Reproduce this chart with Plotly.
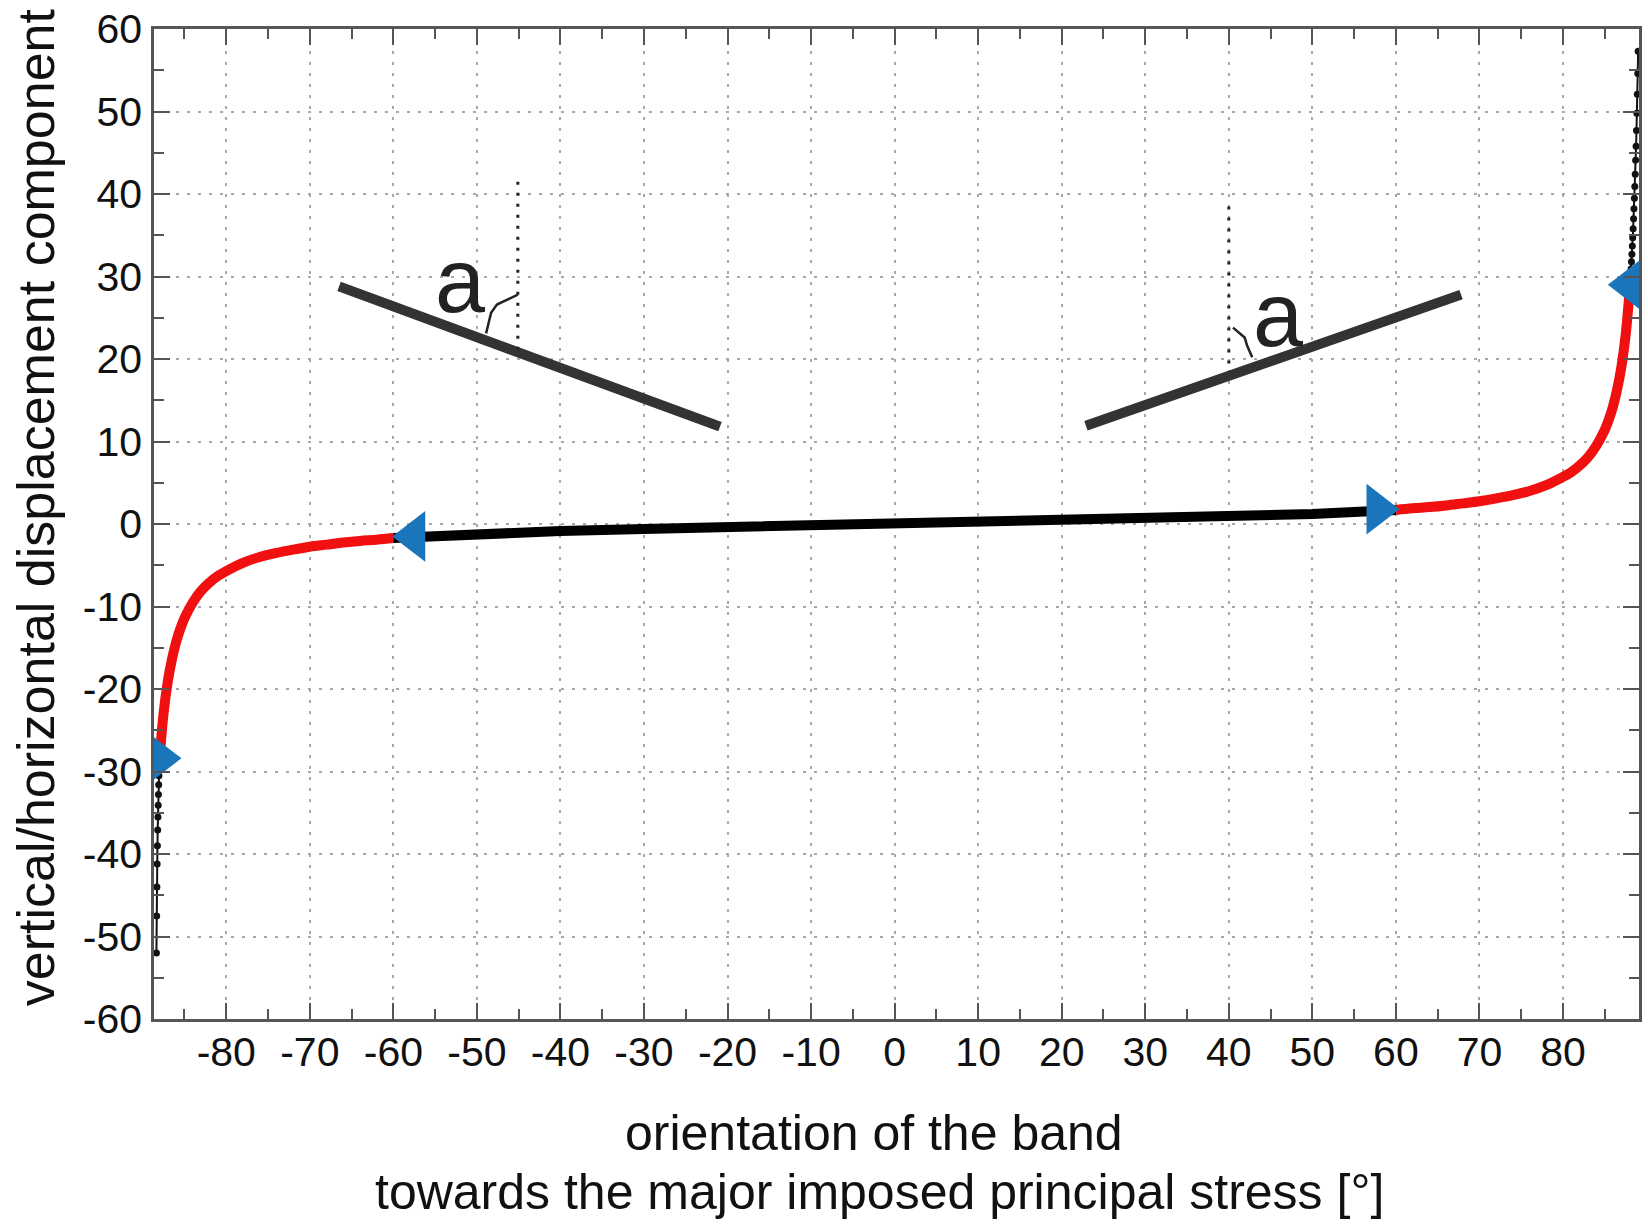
import plotly.graph_objects as go

# ---------------- data ----------------
# central (black) part of the curve
mid_x = [-60, -50, -40, -30, -20, -10, 0, 10, 20, 30, 40, 50, 60]
mid_y = [-1.7, -1.2, -0.85, -0.6, -0.35, -0.2, 0.0, 0.2, 0.35, 0.6, 0.85, 1.2, 1.7]

# red right branch
red_r_x = [60, 62, 64, 66, 68, 70, 72, 74, 76, 78, 80, 81, 82, 83, 84, 85, 85.5, 86, 86.5, 87, 87.5, 88]
red_r_y = [1.7, 1.9, 2.05, 2.25, 2.5, 2.75, 3.1, 3.5, 4.0, 4.7, 5.7, 6.3, 7.1, 8.1, 9.5, 11.4, 12.7, 14.3, 16.4, 19.1, 22.9, 28.6]

# red left branch
red_l_x = [-60, -62, -64, -66, -68, -70, -72, -74, -76, -78, -80, -81, -82, -83, -84, -85, -85.5, -86, -86.5, -87, -87.5, -88]
red_l_y = [-1.7, -1.9, -2.05, -2.25, -2.5, -2.75, -3.1, -3.5, -4.0, -4.7, -5.7, -6.3, -7.1, -8.1, -9.5, -11.4, -12.7, -14.3, -16.4, -19.1, -22.9, -28.6]

# black dotted tails close to +/-90 deg
tail_r_x = [88.0, 88.05, 88.1, 88.15, 88.2, 88.25, 88.3, 88.35, 88.4, 88.45, 88.5, 88.55, 88.6, 88.65, 88.7, 88.75, 88.8, 88.85, 88.9, 88.95, 89.0]
tail_r_y = [28.6, 29.3, 30.1, 30.9, 31.8, 32.7, 33.7, 34.7, 35.8, 37.0, 38.2, 39.5, 40.9, 42.4, 44.1, 45.8, 47.7, 49.8, 52.1, 54.6, 57.3]
tail_l_x = [-88.0, -88.03, -88.06, -88.09, -88.12, -88.15, -88.18, -88.21, -88.24, -88.27, -88.3, -88.33, -88.36]
tail_l_y = [-28.6, -29.5, -30.5, -31.6, -32.8, -34.1, -35.5, -37.1, -39.0, -41.2, -44.0, -47.5, -52.0]

# blue triangle markers: (x, y, symbol)
tri_x = [-57.5, 57.8, 88.0, -88.0]
tri_y = [-1.5, 1.8, 29.0, -28.4]
tri_sym = ["triangle-left", "triangle-right", "triangle-left", "triangle-right"]

# sketch of the band: left and right thick segments
band_l_x = [-66.5, -20.9]
band_l_y = [28.8, 11.8]
band_r_x = [22.9, 67.8]
band_r_y = [11.9, 27.8]

# vertical dotted reference lines
vref_l_x = [-45.1, -45.1]
vref_l_y = [41.5, 21.0]
vref_r_x = [40.0, 40.0]
vref_r_y = [38.5, 18.5]

# small angle arcs
arc_l_x = [-45.1, -47.6, -48.3, -48.9]
arc_l_y = [27.8, 26.6, 25.6, 23.1]
arc_r_x = [40.5, 41.9, 42.2, 42.8]
arc_r_y = [23.8, 22.6, 21.6, 20.2]

# angle labels
a_x = [-52.0, 46.0]
a_y = [29.5, 25.3]
a_text = ["a", "a"]

x_ticks = [-80, -70, -60, -50, -40, -30, -20, -10, 0, 10, 20, 30, 40, 50, 60, 70, 80]
y_ticks = [-60, -50, -40, -30, -20, -10, 0, 10, 20, 30, 40, 50, 60]

x_title_1 = "orientation of the band"
x_title_2 = "towards the major imposed principal stress [°]"
y_title = "vertical/horizontal displacement component"

# ---------------- figure ----------------
FONT = "Liberation Sans, Arial, sans-serif"
TXT = "#111111"
AX = "#555555"
GRID = "#a9a9a9"

fig = go.Figure()

# band sketch lines
for bx, by in [(band_l_x, band_l_y), (band_r_x, band_r_y)]:
    fig.add_trace(go.Scatter(x=bx, y=by, mode="lines",
                             line=dict(color="#333333", width=10), hoverinfo="skip"))
# dotted verticals
for vx, vy in [(vref_l_x, vref_l_y), (vref_r_x, vref_r_y)]:
    fig.add_trace(go.Scatter(x=vx, y=vy, mode="lines",
                             line=dict(color="#222222", width=3, dash="3px,8px"), hoverinfo="skip"))
# arcs
for cx, cy in [(arc_l_x, arc_l_y), (arc_r_x, arc_r_y)]:
    fig.add_trace(go.Scatter(x=cx, y=cy, mode="lines",
                             line=dict(color="#222222", width=2.5), hoverinfo="skip"))

# tails
for tx, ty in [(tail_r_x, tail_r_y), (tail_l_x, tail_l_y)]:
    fig.add_trace(go.Scatter(x=tx, y=ty, mode="lines+markers",
                             line=dict(color="#111111", width=2),
                             marker=dict(color="#111111", size=7), hoverinfo="skip"))
# red branches
for rx, ry in [(red_r_x, red_r_y), (red_l_x, red_l_y)]:
    fig.add_trace(go.Scatter(x=rx, y=ry, mode="lines",
                             line=dict(color="#f01010", width=10, shape="spline"), hoverinfo="skip"))
# central black line
fig.add_trace(go.Scatter(x=mid_x, y=mid_y, mode="lines",
                         line=dict(color="#000000", width=10), hoverinfo="skip"))
# blue triangles
fig.add_trace(go.Scatter(x=tri_x, y=tri_y, mode="markers",
                         marker=dict(symbol=tri_sym, size=44, color="#1b75bb",
                                     line=dict(width=0)), hoverinfo="skip"))

annotations = []
for ax_, ay_, t in zip(a_x, a_y, a_text):
    annotations.append(dict(x=ax_, y=ay_, xref="x", yref="y", text=t, showarrow=False,
                            font=dict(family=FONT, size=90, color="#222222"),
                            xanchor="center", yanchor="middle"))

PL, PR, PT, PB = 154, 1642, 27, 1019
pw, ph = PR - PL, PB - PT

def px_x(p):
    return (p - PL) / pw

def px_y(p):
    return (PB - p) / ph

annotations += [
    dict(x=px_x(875), y=px_y(1133), xref="paper", yref="paper", text=x_title_1,
         showarrow=False, xanchor="center", yanchor="middle",
         font=dict(family=FONT, size=50, color=TXT)),
    dict(x=px_x(881), y=px_y(1192), xref="paper", yref="paper", text=x_title_2,
         showarrow=False, xanchor="center", yanchor="middle",
         font=dict(family=FONT, size=50, color=TXT)),
    dict(x=px_x(36), y=px_y(506), xref="paper", yref="paper", text=y_title,
         showarrow=False, xanchor="center", yanchor="middle", textangle=-90,
         font=dict(family=FONT, size=52, color=TXT)),
]

axis_common = dict(
    showline=True, linecolor=AX, linewidth=2.5, mirror="ticks",
    ticks="inside", ticklen=16, tickwidth=2, tickcolor=AX,
    showgrid=True, gridcolor=GRID, gridwidth=2, griddash="3px,8px",
    zeroline=False,
    tickfont=dict(family=FONT, size=41, color=TXT),
    minor=dict(ticks="inside", ticklen=10, tickwidth=2, tickcolor=AX, dtick=5, showgrid=False),
)

fig.update_layout(
    width=1648, height=1225,
    margin=dict(l=PL, r=1648 - PR, t=PT, b=1225 - PB, pad=0),
    paper_bgcolor="white", plot_bgcolor="white",
    showlegend=False,
    annotations=annotations,
    xaxis=dict(range=[-88.65, 89.1], tickmode="array", tickvals=x_ticks,
               ticktext=[str(v) for v in x_ticks], ticklabelstandoff=-5, **axis_common),
    yaxis=dict(range=[-60, 60], tickmode="array", tickvals=y_ticks,
               ticktext=[str(v) for v in y_ticks], ticklabelstandoff=1, **axis_common),
)
fig.update_xaxes(minor=dict(tick0=-85))
fig.update_yaxes(minor=dict(tick0=-55))

fig.write_html("out.html")
